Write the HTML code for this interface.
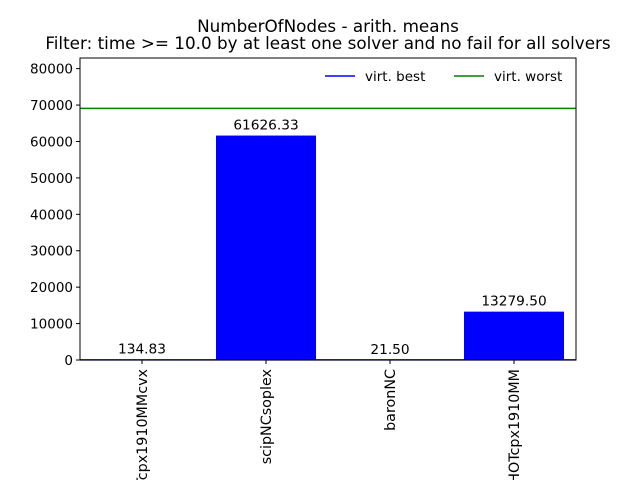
<!DOCTYPE html>
<html><head><meta charset="utf-8"><style>
body{margin:0;background:#fff;overflow:hidden;width:640px;height:480px}
svg{display:block;font-family:"DejaVu Sans","Liberation Sans",sans-serif}
</style></head><body>
<svg id="chart" width="640" height="480" viewBox="0 0 640 480" overflow="hidden">
<defs><clipPath id="frameclip"><rect x="0" y="0" width="640" height="480"/></clipPath></defs>
<text x="328" y="32" text-anchor="middle" font-size="16.8">NumberOfNodes - arith. means</text>
<text x="328" y="49" text-anchor="middle" font-size="16.8">Filter: time &gt;= 10.0 by at least one solver and no fail for all solvers</text>
<g id="plot" clip-path="url(#frameclip)"></g>
</svg>
<script>
const categories = ["HOTcpx1910MMcvx", "scipNCsoplex", "baronNC", "HOTcpx1910MM"];
const values = [134.83, 61626.33, 21.50, 13279.50];
const valueLabels = ["134.83", "61626.33", "21.50", "13279.50"];
const yTicks = [0, 10000, 20000, 30000, 40000, 50000, 60000, 70000, 80000];
const virtBest = 21.5;
const virtWorst = 69100;
const yMax = 82920;

const NS = "http://www.w3.org/2000/svg";
const g = document.getElementById("plot");
const L = 80, R = 576, T = 58, B = 360;
const y = v => B - (v / yMax) * (B - T);
const step = (R - L) / categories.length;
const xc = i => L + step * (i + 0.5);
const bw = 100;
function mk(tag, attrs) { const e = document.createElementNS(NS, tag); for (const k in attrs) e.setAttribute(k, attrs[k]); g.appendChild(e); return e; }

values.forEach((v, i) => {
  const r = mk("rect", {x: xc(i) - bw/2, y: y(v), width: bw, height: B - y(v), fill: "#0000ff"});
  
  
  const t = mk("text", {x: xc(i), y: y(v) - 6, "text-anchor": "middle", "font-size": "13.7"});
  t.textContent = valueLabels[i];
  
  
  const tk = mk("line", {x1: xc(i), x2: xc(i), y1: B, y2: B + 4, stroke: "#000"});
  
  
  const lx = xc(i) + 5, ly = B + 9;
  const xl = mk("text", {x: lx, y: ly, "text-anchor": "end", "font-size": "14.3", transform: `rotate(-90 ${lx} ${ly})`});
  xl.textContent = categories[i];
  
  
});
yTicks.forEach(v => {
  const tk = mk("line", {x1: L - 4, x2: L, y1: y(v), y2: y(v), stroke: "#000"});
  
  
  const t = mk("text", {x: L - 7, y: y(v) + 5, "text-anchor": "end", "font-size": "13.5"});
  t.textContent = v;
  
  
});
const lb = mk("line", {x1: L, x2: R, y1: y(virtBest), y2: y(virtBest), stroke: "#0000ff", "stroke-width": 1.5});


const lw = mk("line", {x1: L, x2: R, y1: y(virtWorst), y2: y(virtWorst), stroke: "#008000", "stroke-width": 1.5});


const frame = mk("rect", {x: L, y: T, width: R - L, height: B - T, fill: "none", stroke: "#000"});


[["virt. best", "#0000ff", 325], ["virt. worst", "#008000", 454]].forEach(([name, c, x0]) => {
  const l = mk("line", {x1: x0, x2: x0 + 30, y1: 76, y2: 76, stroke: c, "stroke-width": 1.5});
  
  
  const t = mk("text", {x: x0 + 40, y: 81, "font-size": "13.5"});
  t.textContent = name;
  
  
});
</script>
</body></html>
